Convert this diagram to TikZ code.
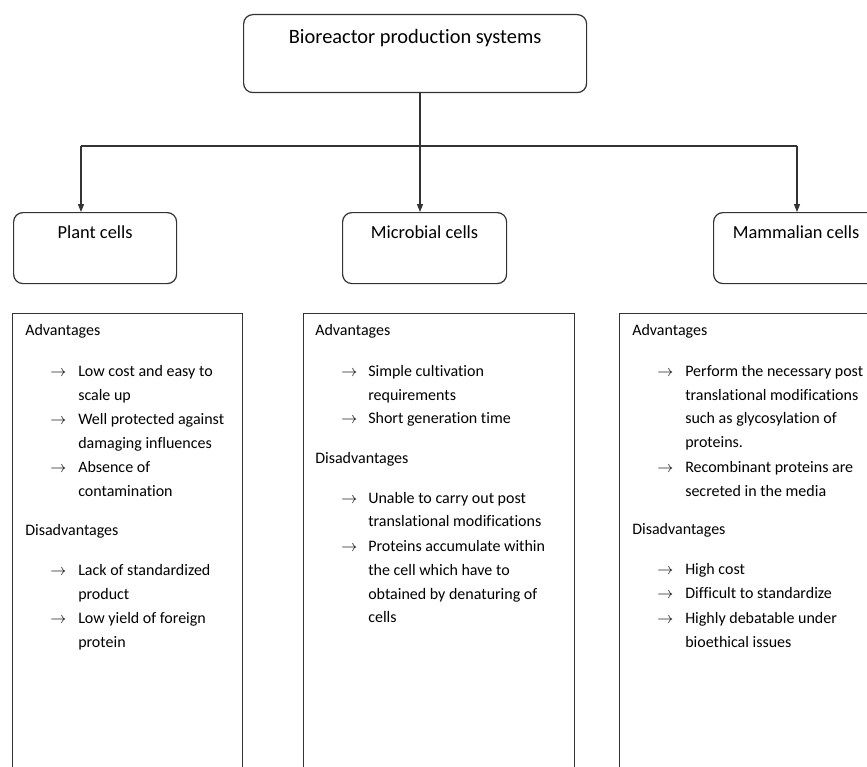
\documentclass[tikz,border=0pt]{standalone}
\usepackage{fontspec}
\setmainfont[Ligatures={NoCommon}]{Carlito}
\usetikzlibrary{positioning,arrows.meta}
\definecolor{ln}{HTML}{333333}

\begin{document}
\begin{tikzpicture}[x=0.75pt,y=-0.75pt,>={Triangle[width=4.5pt,length=6pt]}]
\tikzstyle{hb}=[draw=ln,line width=0.9pt,rounded corners=7pt,inner sep=0pt,anchor=north west,font=\fontsize{13.8}{16}\selectfont]
\tikzstyle{pn}=[draw=ln,line width=0.9pt,anchor=north west,inner sep=0pt]
\tikzstyle{cn}=[draw=ln,line width=0.9pt]
\tikzstyle{bt}=[anchor=base west,inner sep=0pt,font=\fontsize{12}{18}\selectfont]
\useasboundingbox (0,0) rectangle (867,767);
\clip (0,0) rectangle (867,767);
\node[hb,font=\fontsize{15.3}{18}\selectfont,minimum width=257.25pt,text height=21.75pt,text depth=36.75pt] (top) at (243,14) {Bioreactor production systems};
\node[hb,minimum width=122.25pt,text height=19.5pt,text depth=33.75pt] (plant) at (13,212) {Plant cells};
\node[hb,minimum width=123pt,text height=19.5pt,text depth=33.75pt] (micro) at (342,212) {Microbial cells};
\node[hb,minimum width=123.75pt,text height=19.5pt,text depth=33.75pt] (mammal) at (713,212) {Mammalian cells};
\coordinate (jm) at (420,146);
\coordinate (jl) at (81,146);
\coordinate (jr) at (797,146);
\draw[cn] (top.south -| jm) -- (jm);
\draw[cn] (jl) -- (jr);
\draw[cn,->] (jl) -- (jl |- plant.north);
\draw[cn,->] (jm) -- (jm |- micro.north);
\draw[cn,->] (jr) -- (jr |- mammal.north);

\node[pn,minimum width=172.5pt,minimum height=375pt] (plantpan) at (12,313) {};
\node[pn,minimum width=203.25pt,minimum height=375pt] (micpan) at (303,313) {};
\node[pn,minimum width=225pt,minimum height=375pt] (mampan) at (619,313) {};

\node[bt] (pa) at (25,335) {Advantages};
\node[bt] (pd) at (25,535) {Disadvantages};
\foreach \y [count=\i] in {376,424,472,575,623}
  \node[bt] (px\i) at (50,\y) {$\rightarrow$};
\foreach \y/\t [count=\i] in {376/Low cost and easy to,400/scale up,424/Well protected against,448/damaging influences,472/Absence of,496/contamination,575/Lack of standardized,599/product,623/Low yield of foreign,647/protein}
  \node[bt] (pt\i) at (78,\y) {\t};

\node[bt] (ma) at (315,335) {Advantages};
\node[bt] (md) at (315,463) {Disadvantages};
\foreach \y [count=\i] in {376,423,503,551}
  \node[bt] (mx\i) at (341,\y) {$\rightarrow$};
\foreach \y/\t [count=\i] in {376/Simple cultivation,400/requirements,423/Short generation time,503/Unable to carry out post,526/translational modifications,551/Proteins accumulate within,575/the cell which have to,599/obtained by denaturing of,622/cells}
  \node[bt] (mt\i) at (368,\y) {\t};

\node[bt] (aa) at (632,335) {Advantages};
\node[bt] (ad) at (632,534) {Disadvantages};
\foreach \y [count=\i] in {376,472,574,598,623}
  \node[bt] (ax\i) at (657,\y) {$\rightarrow$};
\foreach \y/\t [count=\i] in {376/Perform the necessary post,400/translational modifications,423/such as glycosylation of,447/proteins.,472/Recombinant proteins are,496/secreted in the media,574/High cost,598/Difficult to standardize,623/Highly debatable under,647/bioethical issues}
  \node[bt] (at\i) at (685,\y) {\t};
\end{tikzpicture}
\end{document}
